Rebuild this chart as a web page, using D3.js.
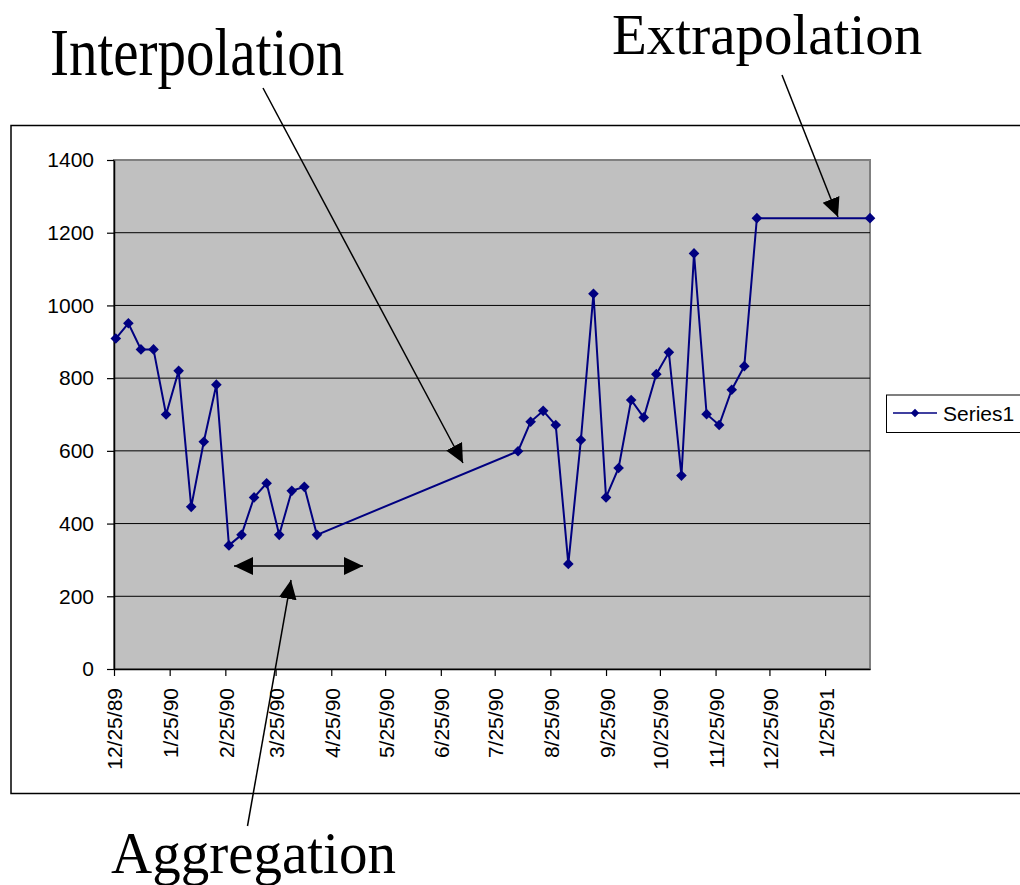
<!DOCTYPE html>
<html>
<head>
<meta charset="utf-8">
<script src="https://cdn.jsdelivr.net/npm/d3@7"></script>
<style>
  body { margin: 0; background: #fff; }
  svg { display: block; }
  .axis text { font-family: Arial, "Liberation Sans", sans-serif; font-size: 21px; fill: #000; }
  .big { font-family: "Times New Roman", "Liberation Serif", serif; font-size: 57px; fill: #000; }
</style>
</head>
<body>
<div id="chart"></div>
<script>
// weekly readings (before and after the gap), plus the extrapolated end point
var dates1 = ["12/26/89","1/2/90","1/9/90","1/16/90","1/23/90","1/30/90","2/6/90","2/13/90","2/20/90",
              "2/27/90","3/6/90","3/13/90","3/20/90","3/27/90","4/3/90","4/10/90","4/17/90"];
var values1 = [909, 951, 879, 879, 700, 820, 446, 625, 782, 340, 369, 472, 511, 369, 490, 501, 369];

var dates2 = ["8/7/90","8/14/90","8/21/90","8/28/90","9/4/90","9/11/90","9/18/90","9/25/90","10/2/90",
              "10/9/90","10/16/90","10/23/90","10/30/90","11/6/90","11/13/90","11/20/90","11/27/90",
              "12/4/90","12/11/90","12/18/90"];
var values2 = [599, 680, 710, 671, 289, 630, 1032, 472, 553, 740, 692, 811, 871, 532, 1143, 701, 671, 768, 833, 1240];

var extraDates = ["2/19/91"];
var extraValues = [1240];

var xTickLabels = ["12/25/89","1/25/90","2/25/90","3/25/90","4/25/90","5/25/90","6/25/90",
                   "7/25/90","8/25/90","9/25/90","10/25/90","11/25/90","12/25/90","1/25/91"];
var yTicks = [0, 200, 400, 600, 800, 1000, 1200, 1400];
var seriesName = "Series1";

var parse = d3.timeParse("%m/%d/%y");
var data = [];
dates1.forEach(function(d, i){ data.push({date: parse(d), value: values1[i]}); });
dates2.forEach(function(d, i){ data.push({date: parse(d), value: values2[i]}); });
extraDates.forEach(function(d, i){ data.push({date: parse(d), value: extraValues[i]}); });

var W = 1020, H = 885;
var plot = {left: 114, top: 160, right: 870, bottom: 669};

var svg = d3.select("#chart")
    .append("svg")
        .attr("width", W)
        .attr("height", H);

// outer chart frame
svg.append("rect")
    .attr("x", 11).attr("y", 125.5)
    .attr("width", 1030).attr("height", 668)
    .attr("fill", "none")
    .attr("stroke", "#000")
    .attr("stroke-width", 1.5);

var x = d3.scaleTime()
    .domain([parse("12/25/89"), parse("2/19/91")])
    .range([plot.left, plot.right]);

var y = d3.scaleLinear()
    .domain([0, 1400])
    .range([plot.bottom, plot.top]);

// plot area
svg.append("rect")
    .attr("x", plot.left).attr("y", plot.top)
    .attr("width", plot.right - plot.left)
    .attr("height", plot.bottom - plot.top)
    .attr("fill", "#c0c0c0")
    .attr("stroke", "#808080")
    .attr("stroke-width", 2);

// gridlines
svg.append("g")
    .selectAll("line")
    .data(yTicks.filter(function(d){ return d > 0 && d < 1400; }))
    .enter().append("line")
        .attr("x1", plot.left).attr("x2", plot.right)
        .attr("y1", function(d){ return y(d); })
        .attr("y2", function(d){ return y(d); })
        .attr("stroke", "#000")
        .attr("stroke-width", 1);

// y axis
var yAxis = svg.append("g")
    .attr("class", "axis")
    .attr("transform", "translate(" + plot.left + ",0)")
    .call(d3.axisLeft(y).tickValues(yTicks).tickFormat(d3.format("d"))
        .tickSizeInner(7).tickSizeOuter(0).tickPadding(13));
yAxis.select(".domain").attr("stroke", "#000").attr("stroke-width", 1.5);
yAxis.selectAll(".tick line").attr("stroke", "#000").attr("stroke-width", 1.2);

// x axis
var fmt = function(d){ return (d.getMonth() + 1) + "/" + d.getDate() + "/" + String(d.getFullYear()).slice(2); };
var xAxis = svg.append("g")
    .attr("class", "axis")
    .attr("transform", "translate(0," + plot.bottom + ")")
    .call(d3.axisBottom(x).tickValues(xTickLabels.map(parse)).tickFormat(fmt).tickSizeInner(7).tickSizeOuter(0));
xAxis.select(".domain").attr("stroke", "#000").attr("stroke-width", 1.5);
xAxis.selectAll(".tick line").attr("stroke", "#000").attr("stroke-width", 1.2);
xAxis.selectAll(".tick text")
    .attr("y", 0)
    .attr("x", -19)
    .attr("dy", "0.38em")
    .attr("transform", "rotate(-90)")
    .style("text-anchor", "end");

// series line
svg.append("path")
    .datum(data)
    .attr("fill", "none")
    .attr("stroke", "#000080")
    .attr("stroke-width", 2)
    .attr("d", d3.line()
        .x(function(d) { return x(d.date); })
        .y(function(d) { return y(d.value); })
    );

var diamond = d3.symbol().type(d3.symbolDiamond2).size(72);
svg.append("g")
    .selectAll("path")
    .data(data)
    .enter().append("path")
        .attr("d", diamond)
        .attr("transform", function(d){ return "translate(" + x(d.date) + "," + y(d.value) + ")"; })
        .attr("fill", "#000080");

// legend
var leg = svg.append("g");
leg.append("rect")
    .attr("x", 886.5).attr("y", 395)
    .attr("width", 150).attr("height", 37.5)
    .attr("fill", "#fff")
    .attr("stroke", "#000")
    .attr("stroke-width", 1);
leg.append("line")
    .attr("x1", 893).attr("x2", 937).attr("y1", 413).attr("y2", 413)
    .attr("stroke", "#000080").attr("stroke-width", 1.5);
leg.append("path")
    .attr("d", d3.symbol().type(d3.symbolDiamond2).size(45))
    .attr("transform", "translate(915,413)")
    .attr("fill", "#000080");
leg.append("text")
    .attr("x", 943).attr("y", 413)
    .attr("dy", "0.36em")
    .style("font-family", "Arial, 'Liberation Sans', sans-serif")
    .style("font-size", "21px")
    .text(seriesName);

// annotation arrows
var defs = svg.append("defs");
defs.append("marker")
    .attr("id", "head")
    .attr("markerUnits", "userSpaceOnUse")
    .attr("viewBox", "0 -10 20 20")
    .attr("refX", 19).attr("refY", 0)
    .attr("markerWidth", 20).attr("markerHeight", 20)
    .attr("orient", "auto-start-reverse")
    .append("path")
        .attr("d", "M0,-9L19,0L0,9Z")
        .attr("fill", "#000");

function arrow(x1, y1, x2, y2, both) {
    var l = svg.append("line")
        .attr("x1", x1).attr("y1", y1).attr("x2", x2).attr("y2", y2)
        .attr("stroke", "#000").attr("stroke-width", 1.5)
        .attr("marker-end", "url(#head)");
    if (both) l.attr("marker-start", "url(#head)");
}
arrow(263, 88, 463, 463);
arrow(782, 75, 838, 217);
arrow(247.5, 826, 291, 580);
arrow(234, 566, 363, 566, true);

// labels
function bigLabel(txt, tx, ty, sy) {
    svg.append("text")
        .attr("class", "big")
        .attr("transform", "translate(" + tx + "," + ty + ") scale(1," + sy + ")")
        .text(txt);
}
bigLabel("Interpolation", 50, 75, 1.19);
bigLabel("Extrapolation", 612, 54, 1.0);
bigLabel("Aggregation", 111, 873, 1.03);
</script>
</body>
</html>
